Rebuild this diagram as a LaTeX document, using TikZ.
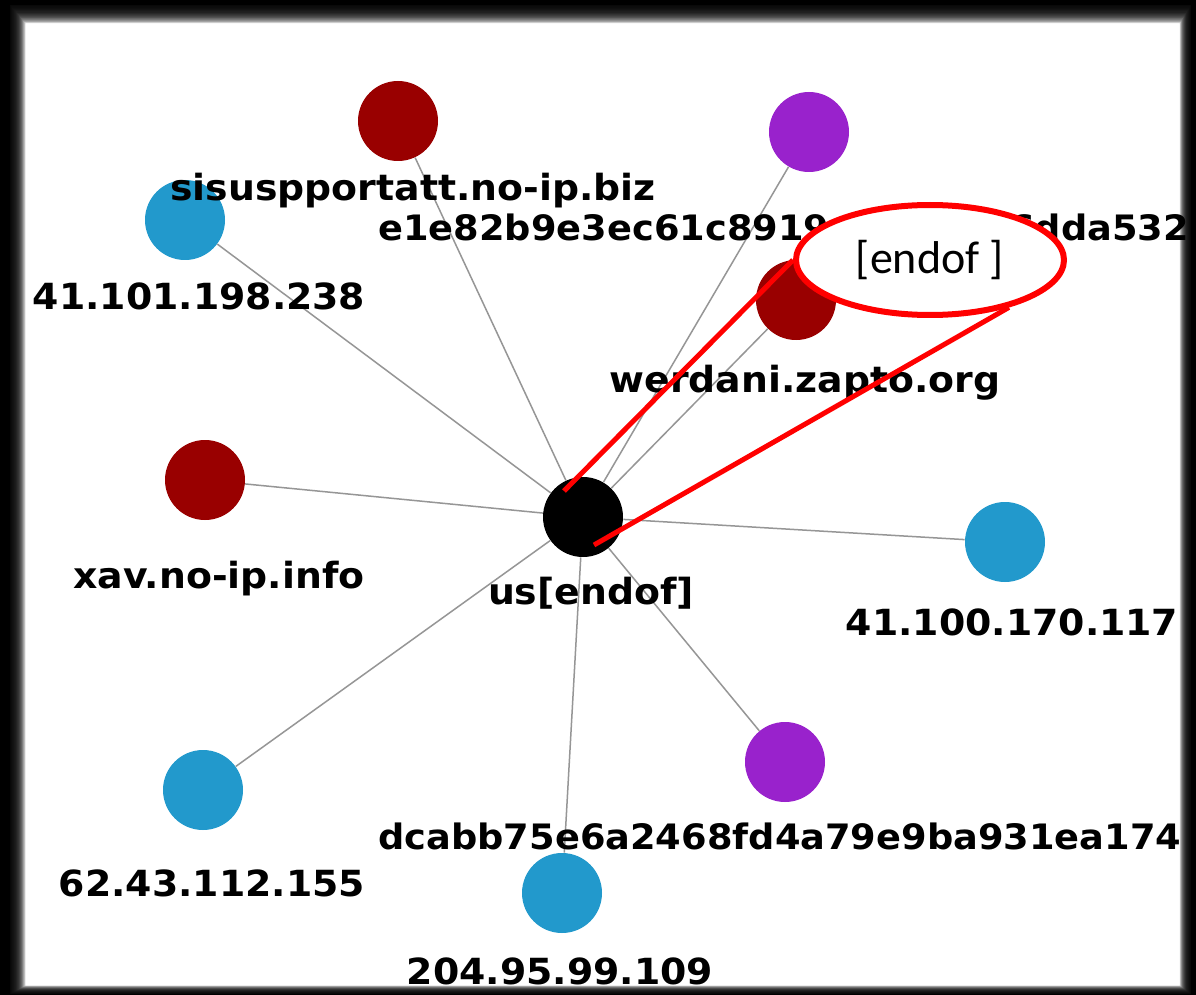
\documentclass[tikz,border=0pt]{standalone}
\usepackage{fontspec}
\usetikzlibrary{shapes.geometric}
\newfontfamily\lblfont{DejaVu Sans}[FakeStretch=1.05]
\newfontfamily\notefont{Carlito}
\definecolor{domred}{RGB}{153,0,0}
\definecolor{hashpurple}{RGB}{153,34,204}
\definecolor{ipblue}{RGB}{34,153,204}
\definecolor{edgegray}{RGB}{150,150,150}
\tikzset{
	vtx/.style={circle, minimum size=40pt, inner sep=0pt},
	lbl/.style={font=\lblfont\bfseries\fontsize{18}{20}\selectfont, anchor=base, inner sep=0pt},
	hashlbl/.style={lbl, font=\lblfont\bfseries\fontsize{17.5}{20}\selectfont, anchor=base west},
}

\begin{document}
\begin{tikzpicture}[x=0.5pt, y=-0.5pt]

		\useasboundingbox (0,0) rectangle (1196,995);
		\fill[white] (0,0) rectangle (1196,995);

		% hosts
		\node[vtx, fill=black] (hub) at (583,517) {};
		\node[vtx, fill=domred] (sisus) at (398,121) {};
		\node[vtx, fill=hashpurple] (e1e8) at (809,132) {};
		\node[vtx, fill=ipblue] (ipa) at (185,220) {};
		\node[vtx, fill=domred] (werd) at (796,300) {};
		\node[vtx, fill=domred] (xav) at (205,480) {};
		\node[vtx, fill=ipblue] (ipb) at (1005,542) {};
		\node[vtx, fill=hashpurple] (dcab) at (785,762) {};
		\node[vtx, fill=ipblue] (ipc) at (203,790) {};
		\node[vtx, fill=ipblue] (ipd) at (562,893) {};

		\foreach \n in {sisus,e1e8,ipa,werd,xav,ipb,dcab,ipc,ipd}
		\draw[edgegray, line width=0.75pt] (hub) -- (\n);

		% names
		\node[lbl] (sisustxt) at (413,201) {sisuspportatt.no-ip.biz};
		\node[hashlbl] (e1e8txt) at (378,241) {e1e82b9e3ec61c8919\hspace{90pt}6dda532};
		\node[lbl] (ipatxt) at (199,309) {41.101.198.238};
		\node[lbl] (werdtxt) at (805,393) {werdani.zapto.org};
		\node[lbl] (xavtxt) at (219,588) {xav.no-ip.info};
		\node[lbl] (hubtxt) at (591,604) {us[endof]};
		\node[lbl] (ipbtxt) at (1012,635) {41.100.170.117};
		\node[hashlbl] (dcabtxt) at (378,849) {dcabb75e6a2468fd4a79e9ba931ea174};
		\node[lbl] (ipctxt) at (212,896) {62.43.112.155};
		\node[lbl] (ipdtxt) at (560,984) {204.95.99.109};

		% callout
		\coordinate (tipa) at (564,491);
		\coordinate (tipb) at (594,545);
		\node[ellipse, draw=red, line width=3pt, fill=white, minimum width=134pt, minimum height=55pt, inner sep=0pt,
			font=\notefont\fontsize{23}{26}\selectfont] (note) at (930,260) {[endof ]};
		\draw[red, line width=2.5pt] (tipa) -- (note.west);
		\draw[red, line width=2.5pt] (tipb) -- (note.-31);

		% frame
		\fill[black, even odd rule] (0,0) rectangle (1196,995) (10,5) rectangle (1191,994);
		\foreach \k in {1,...,14}
		\fill[black, opacity=0.2, even odd rule] (0,0) rectangle (1196,995) (10+1.1*\k,5+1.3*\k) rectangle (1191-0.8*\k,994-0.6*\k);
	\end{tikzpicture}
\end{document}
